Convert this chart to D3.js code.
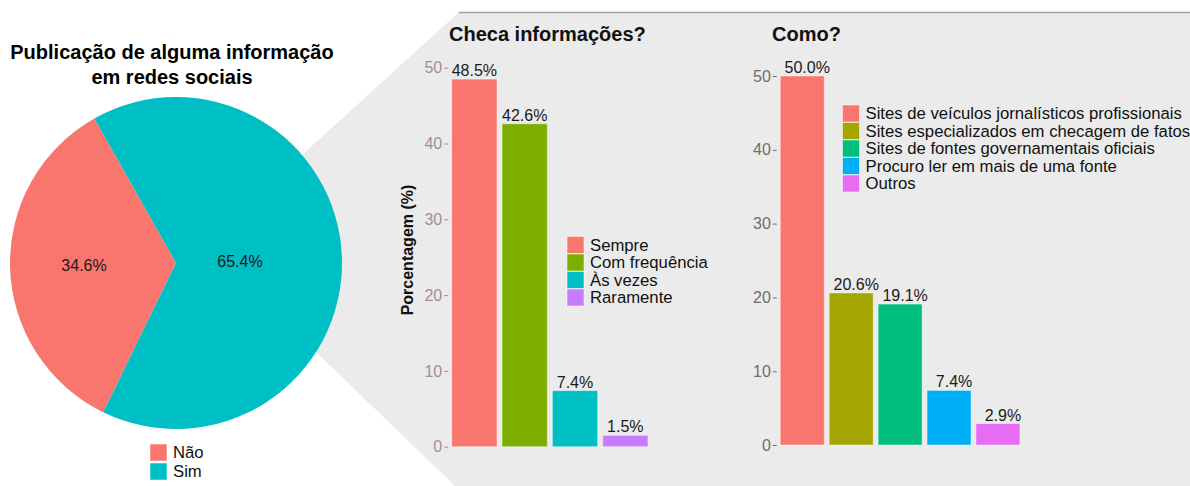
<!DOCTYPE html>
<html lang="pt">
<head>
<meta charset="UTF-8">
<title>Checagem de informações</title>
<script src="https://d3js.org/d3.v7.min.js"></script>
<style>
  body { margin: 0; background: #fff; }
  text { font-family: "Liberation Sans", Arial, sans-serif; }
</style>
</head>
<body>
<svg id="canvas"></svg>
<script>
// dados
let pubLabels = ['Não', 'Sim']
let pubValues = [34.6, 65.4]
let pubColors = ['#F8766D', '#00BFC4']

let checaLabels = ['Sempre', 'Com frequência', 'Às vezes', 'Raramente']
let checaValues = [48.5, 42.6, 7.4, 1.5]
let checaColors = ['#F8766D', '#7CAE00', '#00BFC4', '#C77CFF']

let comoLabels = ['Sites de veículos jornalísticos profissionais', 'Sites especializados em checagem de fatos',
  'Sites de fontes governamentais oficiais', 'Procuro ler em mais de uma fonte', 'Outros']
let comoValues = [50.0, 20.6, 19.1, 7.4, 2.9]
let comoColors = ['#F8766D', '#A3A500', '#00BF7D', '#00B0F6', '#E76BF3']

let yTicks = [0, 10, 20, 30, 40, 50]

let width = 1190
let height = 486

let canvas = d3.select('#canvas')
  .attr('width', width)
  .attr('height', height)

// fundo cinza (zoom do "Sim")
canvas.append('polygon')
  .attr('points', [[459, 12], [1190, 12], [1190, 486], [455, 486], [317, 353], [250, 263], [303, 154]].join(' '))
  .attr('fill', '#ebebeb')
canvas.append('line')
  .attr('x1', 459).attr('x2', 1190).attr('y1', 12.5).attr('y2', 12.5)
  .attr('stroke', '#a0a0a0').attr('stroke-width', 1.5)

// ---------- pizza ----------
let cx = 176, cy = 263, r = 166
let pie = d3.pie().sort(null).value(d => d)
  .startAngle(206 * Math.PI / 180)
  .endAngle(206 * Math.PI / 180 + 2 * Math.PI)
let arcs = pie(pubValues)
let arc = d3.arc().innerRadius(0).outerRadius(r)
let gPie = canvas.append('g').attr('transform', `translate(${cx},${cy})`)
gPie.selectAll('path')
  .data(arcs)
  .enter()
  .append('path')
  .attr('d', arc)
  .attr('fill', (d, i) => pubColors[i])

let labelR = [92, 64]
gPie.selectAll('text.val')
  .data(arcs)
  .enter()
  .append('text')
  .attr('class', 'val')
  .attr('x', (d, i) => labelR[i] * Math.sin((d.startAngle + d.endAngle) / 2))
  .attr('y', (d, i) => -labelR[i] * Math.cos((d.startAngle + d.endAngle) / 2))
  .attr('dy', '0.35em')
  .attr('text-anchor', 'middle')
  .attr('font-size', 16)
  .attr('fill', '#1a1a1a')
  .text(d => d.data.toFixed(1) + '%')

canvas.append('text')
  .attr('x', 172).attr('y', 59)
  .attr('text-anchor', 'middle').attr('font-size', 20).attr('font-weight', 'bold')
  .text('Publicação de alguma informação')
canvas.append('text')
  .attr('x', 172).attr('y', 84)
  .attr('text-anchor', 'middle').attr('font-size', 20).attr('font-weight', 'bold')
  .text('em redes sociais')

let drawLegend = (x, y, labels, colors, step) => {
  let g = canvas.append('g').attr('transform', `translate(${x},${y})`)
  labels.forEach((lab, i) => {
    g.append('rect')
      .attr('x', 0).attr('y', i * step)
      .attr('width', 17).attr('height', 17)
      .attr('fill', colors[i])
      .attr('stroke', '#fff').attr('stroke-opacity', 0.5)
    g.append('text')
      .attr('x', 23).attr('y', i * step + 8.5)
      .attr('dy', '0.35em')
      .attr('font-size', 16.7)
      .attr('fill', '#111')
      .text(lab)
  })
}
drawLegend(150, 444, pubLabels, pubColors, 19)

// ---------- barras ----------
let drawBars = (opt) => {
  let xScale = d3.scaleBand()
    .domain(opt.labels)
    .range([opt.x0, opt.x1])
    .paddingInner(0.1)
    .paddingOuter(0.05)
  let yScale = d3.scaleLinear()
    .domain([0, 50])
    .range([opt.y0, opt.y50])

  let g = canvas.append('g')
  g.selectAll('rect')
    .data(opt.values)
    .enter()
    .append('rect')
    .attr('x', (d, i) => xScale(opt.labels[i]))
    .attr('width', xScale.bandwidth())
    .attr('y', d => yScale(d))
    .attr('height', d => yScale(0) - yScale(d))
    .attr('fill', (d, i) => opt.colors[i])
    .attr('stroke', '#fff').attr('stroke-opacity', 0.45)

  g.selectAll('text.val')
    .data(opt.values)
    .enter()
    .append('text')
    .attr('class', 'val')
    .attr('x', (d, i) => xScale(opt.labels[i]) + xScale.bandwidth() / 2 + opt.dx)
    .attr('y', d => yScale(d) - 3)
    .attr('text-anchor', 'middle')
    .attr('font-size', 16)
    .attr('fill', '#1a1a1a')
    .text(d => d.toFixed(1) + '%')

  let yAxis = d3.axisLeft(yScale)
    .tickValues(yTicks)
    .tickSize(4)
    .tickPadding(2)
  let ax = canvas.append('g')
    .attr('transform', `translate(${opt.x0 - 1},0)`)
    .call(yAxis)
  ax.select('.domain').remove()
  ax.selectAll('line').attr('stroke', opt.tickColor)
  ax.selectAll('text')
    .attr('fill', opt.tickColor)
    .attr('font-size', 16)
    .style('font-family', '"Liberation Sans", Arial, sans-serif')

  canvas.append('text')
    .attr('x', opt.titleX).attr('y', 41)
    .attr('font-size', 20).attr('font-weight', 'bold')
    .attr('fill', '#111')
    .text(opt.title)
}

drawBars({
  labels: checaLabels, values: checaValues, colors: checaColors,
  x0: 449.2, x1: 650.5, y0: 446.7, y50: 67.7, dx: 0,
  tickColor: '#a38f8f', title: 'Checa informações?', titleX: 449
})
drawBars({
  labels: comoLabels, values: comoValues, colors: comoColors,
  x0: 777.8, x1: 1022.4, y0: 445, y50: 76, dx: 5,
  tickColor: '#6e6e6e', title: 'Como?', titleX: 772
})

canvas.append('text')
  .attr('transform', 'translate(413,250) rotate(-90)')
  .attr('text-anchor', 'middle')
  .attr('font-size', 16).attr('font-weight', 'bold')
  .attr('fill', '#111')
  .text('Porcentagem (%)')

drawLegend(567, 236.5, checaLabels, checaColors, 17.5)
drawLegend(842.5, 105, comoLabels, comoColors, 17.5)
</script>
</body>
</html>
